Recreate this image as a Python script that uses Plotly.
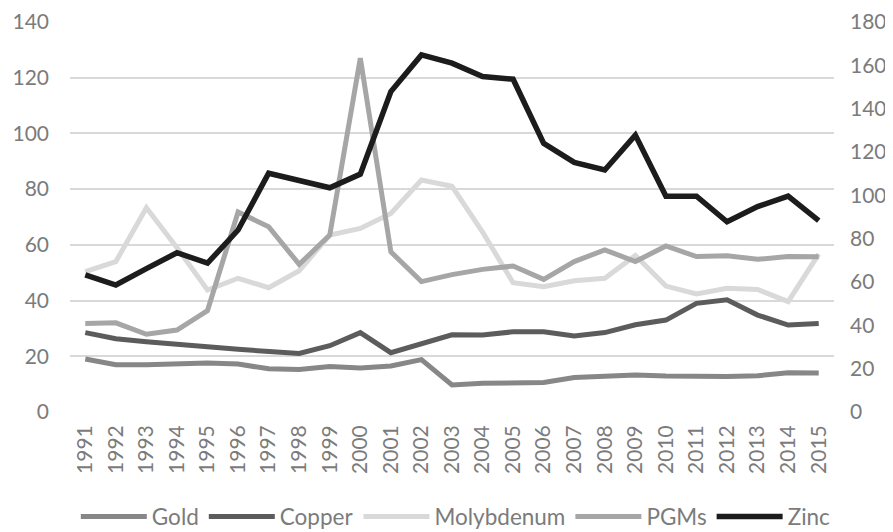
import plotly.graph_objects as go

years = [str(y) for y in range(1991, 2016)]

gold = [19.0, 17.0, 17.0, 17.2, 17.6, 17.2, 15.5, 15.3, 16.3, 15.8, 16.5, 18.8, 9.7,
        10.3, 10.4, 10.6, 12.4, 12.8, 13.3, 12.9, 12.7, 12.7, 13.0, 14.1, 14.0]
copper = [28.5, 26.3, 25.2, 24.5, 23.4, 22.5, 21.8, 21.0, 23.8, 28.5, 21.3, 24.4, 27.7,
          27.6, 28.8, 28.8, 27.3, 28.5, 31.3, 33.0, 39.0, 40.3, 34.8, 31.2, 31.8]
molybdenum = [50.4, 54.0, 73.3, 59.0, 43.8, 48.0, 44.6, 50.7, 63.5, 65.9, 71.3, 83.3, 81.0,
              64.6, 46.4, 45.0, 47.1, 48.0, 56.2, 45.2, 42.4, 44.4, 44.0, 39.6, 56.7]
pgms = [31.8, 32.0, 27.9, 29.4, 36.4, 71.8, 66.5, 53.0, 63.5, 127.0, 57.5, 46.8, 49.3,
        51.2, 52.4, 47.6, 54.0, 58.2, 54.0, 59.6, 55.8, 56.1, 54.8, 55.8, 55.7]
# Zinc plotted on the secondary (right) axis
zinc = [63.3, 58.6, 66.2, 73.5, 68.7, 84.0, 110.2, 106.7, 103.5, 109.8, 147.9, 164.8, 161.0,
        154.8, 153.6, 124.0, 115.2, 111.7, 127.8, 99.6, 99.6, 87.8, 94.8, 99.6, 88.3]

left_ticks = [0, 20, 40, 60, 80, 100, 120, 140]
right_ticks = [0, 20, 40, 60, 80, 100, 120, 140, 160, 180]

FONT = "Lato"
TXT = "#7b7b7b"
fig = go.Figure()
series = [
    ("Gold", gold, "#878787", "y"),
    ("Copper", copper, "#5c5c5c", "y"),
    ("Molybdenum", molybdenum, "#d9d9d9", "y"),
    ("PGMs", pgms, "#a6a6a6", "y"),
    ("Zinc", zinc, "#1c1c1c", "y2"),
]
for name, vals, col, ax in series:
    fig.add_trace(go.Scatter(x=years, y=vals, name=name, mode="lines", yaxis=ax,
                             line=dict(color=col, width=5 if name != "Zinc" else 5.5)))

# page body has an 8px margin, so the figure is sized/offset to compensate
fig.update_layout(
    width=885, height=524,
    margin=dict(l=62, r=59, t=14, b=120, autoexpand=False),
    paper_bgcolor="white", plot_bgcolor="white",
    font=dict(family=FONT, size=21, color=TXT),
    xaxis=dict(type="category", range=[-0.5, 24.5], tickangle=-90, showgrid=False,
               showline=False, ticks="", automargin=False, ticklabelstandoff=8,
               tickfont=dict(size=21, color=TXT)),
    yaxis=dict(range=[0, 140], tickvals=left_ticks, showgrid=True, gridcolor="#d9d9d9",
               gridwidth=1.5, zeroline=False, showline=False, ticks="",
               automargin=False, ticklabelstandoff=20),
    yaxis2=dict(range=[0, 180], tickvals=right_ticks, overlaying="y", side="right",
                showgrid=False, zeroline=False, showline=False, ticks="",
                automargin=False, ticklabelstandoff=15),
    legend=dict(orientation="h", x=0.505, xanchor="center", y=-0.269, yanchor="middle",
                font=dict(size=22.5, color=TXT), itemwidth=66, tracegroupgap=0),
)

fig.write_html("out.html")
